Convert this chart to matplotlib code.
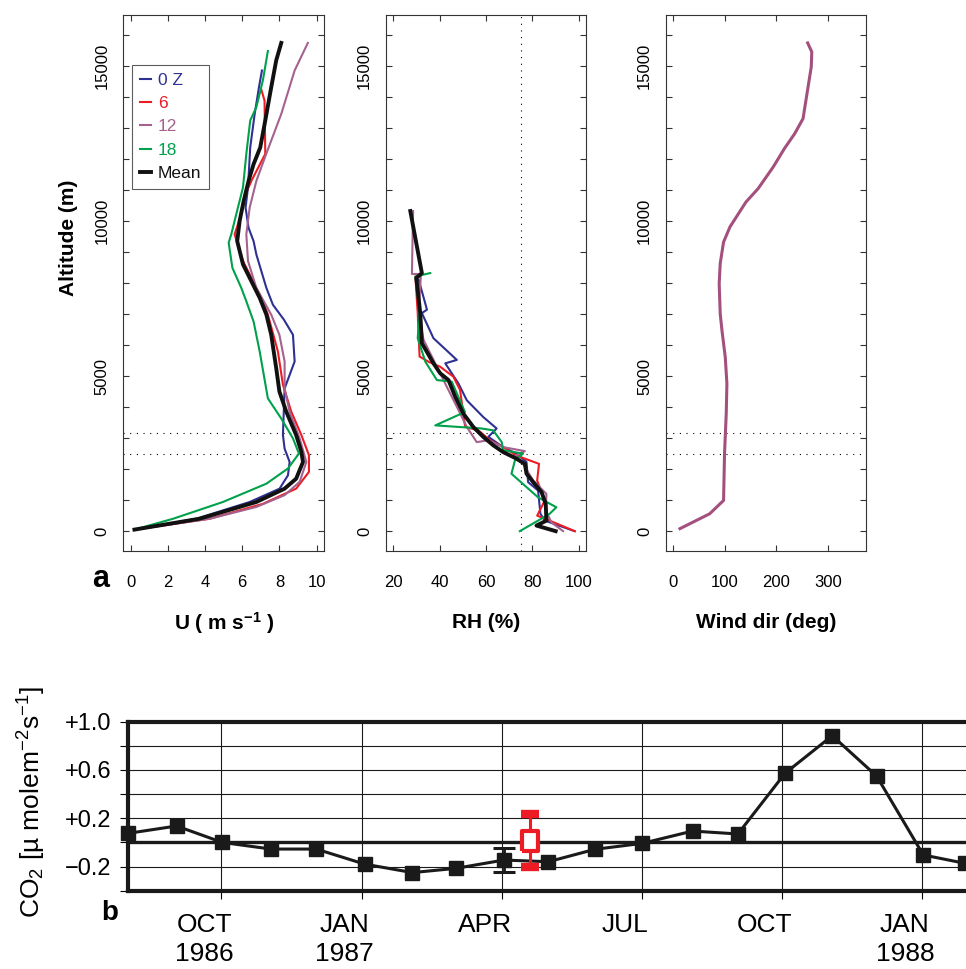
import matplotlib.pyplot as plt
from matplotlib.ticker import FixedLocator, FixedFormatter
from matplotlib.transforms import ScaledTranslation

plt.rcParams['font.family'] = ['Liberation Sans', 'DejaVu Sans']
plt.rcParams['mathtext.fontset'] = 'custom'
plt.rcParams['mathtext.rm'] = 'Liberation Sans'
plt.rcParams['mathtext.it'] = 'Liberation Sans:italic'
plt.rcParams['mathtext.bf'] = 'Liberation Sans:bold'

# ---- panel a: wind speed profiles (altitude m, U m/s) ----
u_0z_alt = [14850, 14310, 13450, 12370, 11080, 10430, 9780, 9350, 8920, 8380, 7840, 7300, 6820,
            6330, 5470, 4600, 3100, 2660, 2230, 1800, 1370, 940, 400, 50]
u_0z = [7.06, 6.9, 6.67, 6.43, 6.31, 6.18, 6.34, 6.61, 6.76, 7.03, 7.3, 7.65, 8.24,
        8.73, 8.82, 8.28, 8.19, 8.28, 8.55, 8.46, 8.01, 6.4, 3.53, 0.2]
u_6_alt = [14230, 13880, 12160, 11290, 10860, 10220, 9570, 8710, 8170, 7410, 6980, 5790, 4720,
           3850, 3100, 2450, 1910, 1370, 880, 400, 50]
u_6 = [7.03, 7.2, 7.24, 6.49, 6.18, 5.95, 5.59, 6.04, 6.49, 7.11, 7.38, 7.92, 8.19,
       8.64, 9.18, 9.59, 9.59, 8.9, 7.11, 4.25, 0.2]
u_12_alt = [15740, 14850, 13450, 12160, 11290, 10430, 9570, 8710, 7840, 6980, 6330, 5470, 4600,
            3850, 2990, 2230, 1590, 1160, 780, 400, 50]
u_12 = [9.53, 8.82, 8.1, 7.29, 6.76, 6.4, 6.22, 6.31, 6.76, 7.56, 8.0, 8.28, 8.28,
        8.55, 9.09, 9.45, 9.09, 8.28, 6.76, 4.25, 0.2]
u_18_alt = [15480, 14530, 13670, 13240, 12160, 11080, 10220, 9570, 9300, 8490, 7840, 7410, 6760,
            5790, 4280, 3630, 2990, 2500, 2020, 1530, 940, 400, 50]
u_18 = [7.38, 7.11, 6.76, 6.43, 6.22, 6.04, 5.68, 5.41, 5.27, 5.47, 5.95, 6.22, 6.61,
        6.94, 7.38, 8.1, 8.73, 9.05, 8.46, 7.3, 4.96, 2.28, 0.2]
u_mean_alt = [15740, 15180, 14310, 13240, 12370, 11830, 11290, 10650, 10000, 9350, 8600, 8060, 7520,
              6980, 6330, 5250, 4500, 3850, 3100, 2560, 2230, 1690, 1370, 940, 400, 50]
u_mean = [8.1, 7.83, 7.56, 7.24, 6.97, 6.61, 6.34, 6.08, 5.86, 5.73, 6.04, 6.49, 6.94,
          7.3, 7.56, 7.83, 8.0, 8.37, 8.9, 9.18, 9.27, 8.9, 8.28, 6.76, 3.7, 0.2]

# ---- relative humidity profiles (altitude m, RH %) ----
rh_0z_alt = [8110, 7140, 7030, 6220, 5520, 5410, 4760, 4220, 3680, 3310, 3040, 2710, 2500,
             2230, 1580, 1310, 560, 340, 0]
rh_0z = [30.9, 34.5, 32.3, 37.3, 47.4, 42.4, 48.1, 51.7, 58.8, 64.6, 61.0, 67.4, 73.1,
         77.5, 78.2, 82.5, 83.5, 85.4, 98.3]
rh_6_alt = [8200, 7030, 5630, 5460, 5300, 4980, 4550, 3360, 3250, 2930, 2710, 2440, 2170,
            1630, 990, 500, 340, 0]
rh_6 = [29.5, 30.5, 31.3, 35.2, 40.2, 45.9, 48.8, 51.0, 56.7, 61.7, 67.4, 73.1, 82.9,
        82.1, 85.4, 82.1, 87.5, 98.3]
rh_12_alt = [10320, 8290, 8290, 7030, 6170, 5300, 4650, 4010, 3360, 2870, 2930, 2710, 2580,
             2390, 2170, 1630, 1200, 660, 280, 0]
rh_12 = [28.5, 28.0, 31.9, 30.9, 33.0, 38.8, 43.1, 47.4, 51.7, 56.0, 61.0, 67.4, 76.8,
         71.7, 76.0, 80.4, 86.1, 85.8, 88.3, 93.3]
rh_18_alt = [8320, 8210, 7030, 6220, 5460, 4870, 4820, 3840, 3410, 3310, 3250, 2870, 2610,
             2500, 2280, 1850, 1420, 1090, 770, 560, 340, 0]
rh_18 = [35.9, 29.5, 31.3, 30.5, 33.8, 38.8, 45.2, 50.9, 38.1, 58.1, 63.1, 66.8, 67.4,
         76.0, 72.5, 71.0, 77.5, 82.5, 90.4, 87.5, 82.5, 74.6]
rh_mean_alt = [10320, 8320, 8160, 7030, 6060, 5410, 5090, 4870, 4330, 3790, 3360, 3040, 2770,
               2550, 2340, 2170, 1850, 1580, 1260, 880, 340, 180, 0]
rh_mean = [27.3, 32.3, 29.9, 31.6, 32.3, 37.3, 40.2, 43.8, 46.7, 50.2, 54.5, 58.8, 63.1,
           67.4, 73.1, 76.8, 77.5, 80.4, 84.0, 85.8, 86.1, 81.8, 90.1]

# ---- wind direction profile ----
wd_alt = [15740, 15450, 14970, 13300, 12820, 12340, 11740, 11050, 10610, 9810, 9320, 8630, 7980,
          7010, 6470, 5610, 4750, 3790, 2500, 990, 560, 80]
wd = [261, 269, 268, 252, 236, 216, 194, 165, 141, 110, 97.5, 91, 89,
      91, 94.4, 100.8, 104, 102.7, 99.4, 97.5, 70.5, 12.7]

layer_alt = [3175, 2485]
rh_ref = 75
alt_ticks = [0, 5000, 10000, 15000]
u_ticks = [0, 2, 4, 6, 8, 10]
rh_ticks = [20, 40, 60, 80, 100]
wd_ticks = [0, 100, 200, 300]
series_names = ['0 Z', '6', '12', '18', 'Mean']
series_colors = ['#2e3192', '#ed1c24', '#a5628f', '#00a14b', '#111111']

# ---- panel b: CO2 flux (months since 1 Aug 1986) ----
flux_month = [0.0, 1.04, 2.02, 3.06, 4.03, 5.07, 6.09, 7.02, 8.05, 9.0, 10.0, 11.01, 12.09,
              13.06, 14.07, 15.08, 16.03, 17.03, 17.92]
flux = [0.075, 0.136, 0.0, -0.055, -0.055, -0.18, -0.25, -0.215, -0.146, -0.16, -0.057, -0.008,
        0.094, 0.07, 0.573, 0.884, 0.55, -0.104, -0.173]
err_idx = 8
err_size = 0.1
red_month = 8.61
red_flux = 0.014
red_lo = -0.2
red_hi = 0.233
quarter_month = [2, 5, 8, 11, 14, 17]
quarter_labels = ['OCT\n1986', 'JAN\n1987', 'APR', 'JUL', 'OCT', 'JAN\n1988']
flux_ticks = [-0.4, -0.2, 0.0, 0.2, 0.4, 0.6, 0.8, 1.0]
flux_labels = ['', '\u22120.2', '', '+0.2', '', '+0.6', '', '+1.0']

W, H = 966, 969
fig = plt.figure(figsize=(W / 100, H / 100), dpi=100)


def px_axes(left, top, right, bottom):
    return fig.add_axes([left / W, 1 - bottom / H, (right - left) / W, (bottom - top) / H])


ax1 = px_axes(123.3, 15, 324, 551)
ax2 = px_axes(386, 15, 586, 551)
ax3 = px_axes(666, 15, 866, 551)

for ax in (ax1, ax2, ax3):
    ax.set_ylim(-640, 16640)
    ax.set_yticks(alt_ticks)
    ax.set_yticks(range(0, 17000, 1000), minor=True)
    ax.tick_params(which='both', direction='in', length=4, width=0.8, color='#333333',
                   top=True, right=True, labelsize=12)
    ax.tick_params(axis='y', labelrotation=90, pad=10)
    ax.tick_params(axis='x', pad=17)
    plt.setp(ax.get_yticklabels(), va='center')
    for s in ax.spines.values():
        s.set_linewidth(0.8)
        s.set_color('#333333')
    for z in layer_alt:
        ax.axhline(z, color='k', lw=0.8, ls=(0, (1, 5)), zorder=1)

# wind speed
u_sets = [(u_0z, u_0z_alt), (u_6, u_6_alt), (u_12, u_12_alt), (u_18, u_18_alt)]
for (x, z), c, name in zip(u_sets, series_colors[:4], series_names[:4]):
    ax1.plot(x, z, color=c, lw=1.5, label=name, zorder=3)
ax1.plot(u_mean, u_mean_alt, color=series_colors[4], lw=2.8, label='Mean', zorder=4)
ax1.set_xlim(-0.4, 10.4)
ax1.set_xticks(u_ticks)
leg = ax1.legend(loc='upper left', bbox_to_anchor=(0.042, 0.907), borderaxespad=0,
                 fontsize=12.5, handlelength=0.65, handletextpad=0.4, labelspacing=0.47,
                 borderpad=0.45, frameon=True, fancybox=False, labelcolor=series_colors)
leg.get_frame().set_edgecolor('#333333')
leg.get_frame().set_linewidth(0.8)

# relative humidity
rh_sets = [(rh_0z, rh_0z_alt), (rh_6, rh_6_alt), (rh_12, rh_12_alt), (rh_18, rh_18_alt)]
for (x, z), c in zip(rh_sets, series_colors[:4]):
    ax2.plot(x, z, color=c, lw=1.5, zorder=3)
ax2.plot(rh_mean, rh_mean_alt, color=series_colors[4], lw=2.8, zorder=4)
ax2.axvline(rh_ref, color='k', lw=0.8, ls=(0, (1, 5)), zorder=1)
ax2.set_xlim(16.8, 103.2)
ax2.set_xticks(rh_ticks)

# wind direction
ax3.plot(wd, wd_alt, color='#a3507e', lw=2.2, zorder=3)
ax3.set_xlim(-14.4, 374.4)
ax3.set_xticks(wd_ticks)

fig.text(224 / W, 1 - 623 / H, r'U ( m s$^{\mathbf{-1}}$ )', ha='center', va='center',
         fontsize=15, fontweight='bold')
fig.text(486 / W, 1 - 623 / H, 'RH (%)', ha='center', va='center', fontsize=15, fontweight='bold')
fig.text(766 / W, 1 - 623 / H, 'Wind dir (deg)', ha='center', va='center', fontsize=15,
         fontweight='bold')
fig.text(68 / W, 1 - 238 / H, 'Altitude (m)', ha='center', va='center', rotation=90,
         fontsize=15, fontweight='bold')
fig.text(101 / W, 1 - 579 / H, 'a', ha='center', va='center', fontsize=22, fontweight='bold')

# ---- panel b ----
axb = px_axes(128, 721.7, 128 + 19 * 46.7, 890.7)
axb.set_xlim(0, 19)
axb.set_ylim(-0.4, 1.0)
for name in ('top', 'bottom', 'left'):
    axb.spines[name].set_linewidth(3)
    axb.spines[name].set_color('#1a1a1a')
axb.spines['right'].set_visible(False)
for v in flux_ticks[1:-1]:
    axb.axhline(v, color='#1a1a1a', lw=2.4 if v == 0 else 0.8, zorder=1)
for m in quarter_month:
    axb.axvline(m, color='#1a1a1a', lw=0.8, zorder=1)

axb.yaxis.set_major_locator(FixedLocator(flux_ticks))
axb.yaxis.set_major_formatter(FixedFormatter(flux_labels))
axb.tick_params(axis='y', direction='out', length=6, width=0.8, pad=6, labelsize=17)
axb.set_xticks(quarter_month)
axb.set_xticklabels(quarter_labels, fontsize=19, linespacing=1.25)
axb.tick_params(axis='x', direction='out', length=6, width=0.8, pad=10)
shift = ScaledTranslation(-0.17, 0, fig.dpi_scale_trans)
for lab in axb.get_xticklabels():
    lab.set_transform(lab.get_transform() + shift)

axb.plot(flux_month, flux, color='#1a1a1a', lw=2.2, marker='s', ms=9.5, clip_on=False, zorder=5)
axb.errorbar(flux_month[err_idx], flux[err_idx], yerr=err_size, fmt='none', ecolor='#1a1a1a',
             elinewidth=2.0, capsize=7.8, capthick=2.2, zorder=5)
rect = [(-0.75, -1), (0.75, -1), (0.75, 1), (-0.75, 1), (-0.75, -1)]
axb.errorbar(red_month, red_flux, yerr=[[red_flux - red_lo], [red_hi - red_flux]], fmt='none',
             ecolor='#ed1c24', elinewidth=2.2, capsize=6.5, capthick=6, zorder=6)
axb.plot(red_month, red_flux, linestyle='none', marker=rect, ms=15, mfc='white', mec='#ed1c24',
         mew=3, zorder=7)

fig.text(32 / W, 1 - 802 / H, r'CO$_2$ [µ molem$^{-2}$s$^{-1}$]', ha='center', va='center',
         rotation=90, fontsize=19)
fig.text(110 / W, 1 - 913 / H, 'b', ha='center', va='center', fontsize=20, fontweight='bold')

fig.savefig('out.png', dpi=100)
